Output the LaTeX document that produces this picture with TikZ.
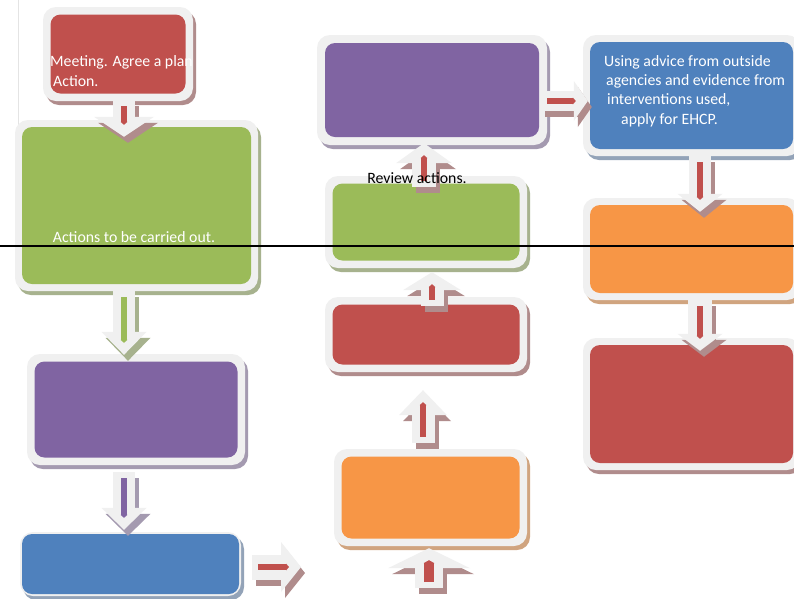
\documentclass[tikz,border=0pt]{standalone}
\usepackage{fontspec}
\setmainfont{Carlito}
\usetikzlibrary{arrows.meta,calc}
\definecolor{framec}{HTML}{F0F0F0}
\definecolor{cred}{HTML}{C0504D}
\definecolor{cgreen}{HTML}{9BBB59}
\definecolor{cpurple}{HTML}{8064A2}
\definecolor{cblue}{HTML}{4F81BD}
\definecolor{corange}{HTML}{F79646}
\definecolor{redsh}{HTML}{B08C8C}
\definecolor{greensh}{HTML}{A7B28E}
\definecolor{purplesh}{HTML}{A49AB0}
\definecolor{bluesh}{HTML}{93A3B8}
\definecolor{orangesh}{HTML}{D0A47F}
\definecolor{marginc}{HTML}{E4E4E4}
\tikzset{
  framebox/.style={fill=framec, rounded corners=13pt, inner sep=0pt},
  boxshadow/.style={rounded corners=13pt},
  boxfill/.style={rounded corners=10pt},
  lighttext/.style={text=white, font=\fontsize{15.8}{19.4}\selectfont, inner sep=0pt},
  darktext/.style={text=black, font=\fontsize{15.8}{19.4}\selectfont, inner sep=0pt},
}
% name, x1, y1, x2, y2, inset, colour, shadow colour
\newcommand\cardbox[8]{%
  \fill[boxshadow, #8] (#2+3,#3+4) rectangle (#4+3,#5+4);
  \node[framebox, minimum width={#4-#2}, minimum height={#5-#3}] (#1) at ({(#2+#4)/2},{(#3+#5)/2}) {};
  \fill[boxfill, #7] (#2+#6,#3+#6) rectangle (#4-#6,#5-#6);
}
% from, to, shaft width, head width, head length, core colour, shadow colour, core width
\newcommand\flowarrow[8]{%
  \draw[line width=#3pt, draw=#7, -{Triangle[width=#4pt,length=#5pt,line width=0pt]},
        transform canvas={shift={(4pt,-6pt)}}] #1 -- #2;
  \draw[line width=#3pt, draw=framec, -{Triangle[width=#4pt,length=#5pt,line width=0pt]}] #1 -- #2;
  \draw[line width=#8pt, draw=#6, shorten <=6pt, shorten >=12pt,
        -{Triangle[width=#8pt+1pt,length=3pt,line width=0pt]}] #1 -- #2;
}
\begin{document}
\begin{tikzpicture}[x=1pt,y=-1pt]
\useasboundingbox (0,0) rectangle (794,598);
\fill[white] (0,0) rectangle (794,598);
\draw[marginc, line width=1pt] (18,0) -- (18,130);

% left column
\cardbox{r1}{43}{7}{193}{101}{7.5}{cred}{redsh}
\cardbox{g1}{15}{120}{258}{291}{7}{cgreen}{greensh}
\cardbox{p1}{27}{354}{245}{465}{7.5}{cpurple}{purplesh}
\cardbox{b1}{20}{532}{241}{596}{2}{cblue}{bluesh}
% middle column
\cardbox{o2}{334}{449}{527}{546}{7.5}{corange}{orangesh}
\cardbox{r2}{325}{297}{527}{372}{7.5}{cred}{redsh}
\cardbox{g2}{325}{176}{527}{268}{7.5}{cgreen}{greensh}
\cardbox{p2}{317}{35}{547}{145}{8}{cpurple}{purplesh}
% right column
\cardbox{b3}{583}{35}{800}{156}{7}{cblue}{bluesh}
\cardbox{o3}{583}{198}{800}{300}{7}{corange}{orangesh}
\cardbox{r3}{583}{338}{800}{470}{7}{cred}{redsh}

\coordinate (c4) at (301,567);
\coordinate (c5) at (429,588);

% connectors
\flowarrow{($(r1.south)+(6,-1)$)}{($(g1.north)+(-12.5,17)$)}{22}{60}{20}{cred}{redsh}{6}
\flowarrow{($(g1.south)+(-12.5,0)$)}{($(p1.north)+(-12,1)$)}{22}{45}{23}{cgreen}{greensh}{6}
\flowarrow{($(p1.south)+(-12,7)$)}{($(b1.north)+(-6.5,-2)$)}{22}{45}{22}{cpurple}{purplesh}{6}
\flowarrow{($(b1.east)+(11,3)$)}{(c4)}{25}{50}{20}{cred}{redsh}{6}
\flowarrow{(c5)}{($(o2.south)+(-1.5,2)$)}{28}{82}{20}{cred}{redsh}{10}
\flowarrow{($(o2.north)+(-7.5,-6)$)}{($(r2.south)+(-3,18)$)}{23}{48}{25}{cred}{redsh}{6}
\flowarrow{($(r2.north)+(6,9)$)}{($(g2.south)+(6,4)$)}{23}{58}{18}{cred}{redsh}{6}
\flowarrow{($(g2.north)+(-2,11)$)}{($(p2.south)+(-8,-2)$)}{24}{56}{20}{cred}{redsh}{6}
\flowarrow{($(p2.east)+(-6,11)$)}{($(b3.west)+(5,5.5)$)}{20}{40}{14}{cred}{redsh}{6}
\flowarrow{($(b3.south)+(8.5,0)$)}{($(o3.north)+(8.5,14)$)}{22}{45}{18}{cred}{redsh}{6}
\flowarrow{($(o3.south)+(8.5,0)$)}{($(r3.north)+(8.5,13)$)}{24}{45}{17}{cred}{redsh}{6}

% texts
\node[lighttext, anchor=west, align=left] (t1) at (50,71) {Meeting. Agree a plan\\\hspace*{3pt}Action.};
\node[lighttext] (t2) at (134,237) {Actions to be carried out.};
\node[lighttext, anchor=west, align=left] (t3) at (604,91) {Using advice from outside\\\hspace*{2pt}agencies and evidence from\\\hspace*{3pt}interventions used,\\\hspace*{17pt}apply for EHCP.};
\node[darktext] (t4) at (417,178) {Review actions.};

\draw[black, line width=1.5pt] (0,246) -- (794,246);
\end{tikzpicture}
\end{document}
